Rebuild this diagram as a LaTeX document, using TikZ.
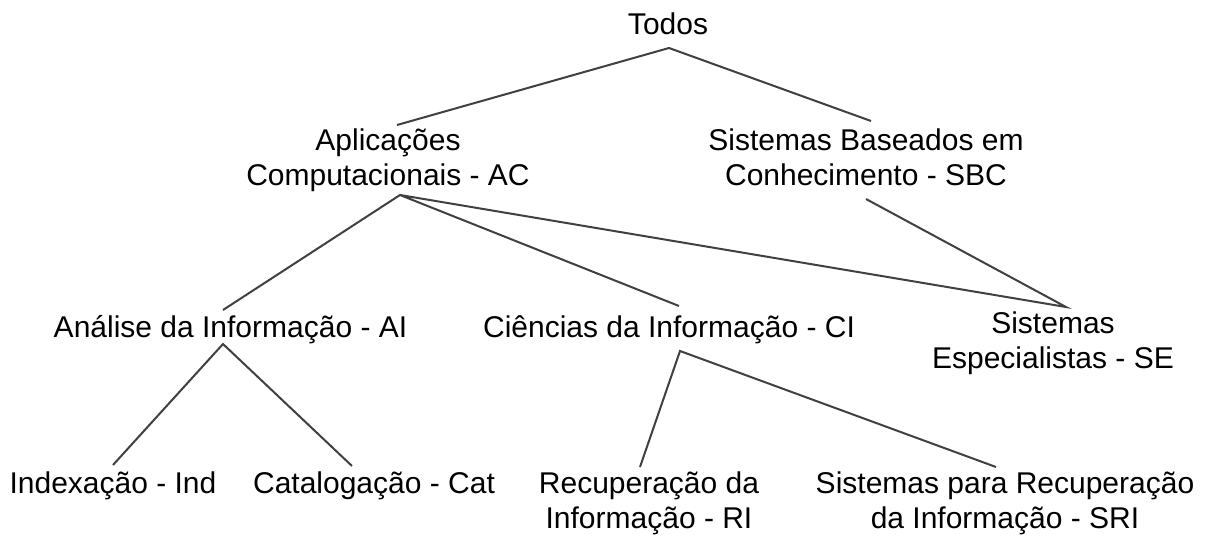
\documentclass[tikz,border=0pt]{standalone}
\usepackage{fontspec}
\setmainfont{Liberation Sans}
\definecolor{linha}{HTML}{404040}

\begin{document}
\begin{tikzpicture}[x=1pt, y=-1pt,
    termo/.style={anchor=base, align=center, inner sep=0pt, font=\fontsize{30}{35}\selectfont},
    ramo/.style={draw=linha, line width=2pt}]
            %hierarquia das areas, medidas em pixels da figura (base = ultima linha)
            \useasboundingbox (0,0) rectangle (1211,535);

            \node[termo] (Todos) at (668,35) {Todos};
            \node[termo] (AC)  at (388,185) {Aplicações\\Computacionais - AC};
            \node[termo] (SBC) at (866,185) {Sistemas Baseados em\\Conhecimento - SBC};
            \node[termo] (AI)  at (230.5,337) {Análise da Informação - AI};
            \node[termo] (CI)  at (669,337) {Ciências da Informação - CI};
            \node[termo] (SE)  at (1053,368) {Sistemas\\Especialistas - SE};
            \node[termo] (Ind) at (113,493) {Indexação - Ind};
            \node[termo] (Cat) at (374,493) {Catalogação - Cat};
            \node[termo] (RI)  at (649,528) {Recuperação da\\Informação - RI};
            \node[termo] (SRI) at (1005,528) {Sistemas para Recuperação\\da Informação - SRI};

            \draw[ramo]
            ([shift={(9,-60)}]AC.base) -- ([shift={(1,13)}]Todos.base) -- ([shift={(5,-64)}]SBC.base);

            \draw[ramo]
            ([shift={(-7.5,-27)}]AI.base) -- ([shift={(12,10)}]AC.base) -- ([shift={(10,-31)}]CI.base)
            ([shift={(12,10)}]AC.base) -- ([shift={(13,-61)}]SE.base) -- ([shift={(0,14)}]SBC.base);

            \draw[ramo]
            ([shift={(0,-28)}]Ind.base) -- ([shift={(-7.5,7)}]AI.base) -- ([shift={(-22,-27)}]Cat.base);

            \draw[ramo]
            ([shift={(-9,-61)}]RI.base) -- ([shift={(11,14)}]CI.base) -- ([shift={(-9,-61)}]SRI.base);
\end{tikzpicture}
\end{document}
